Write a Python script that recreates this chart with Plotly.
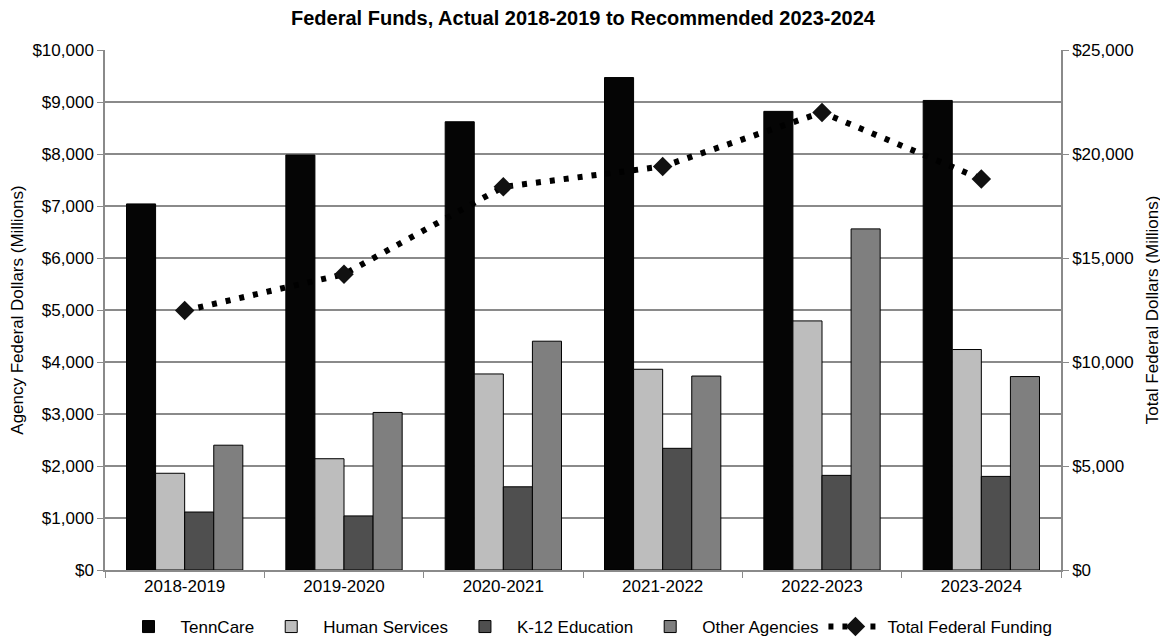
import plotly.graph_objects as go

years = ["2018-2019", "2019-2020", "2020-2021", "2021-2022", "2022-2023", "2023-2024"]
tenncare = [7040, 7980, 8620, 9470, 8820, 9030]
human_services = [1860, 2140, 3770, 3860, 4790, 4240]
k12_education = [1115, 1040, 1600, 2340, 1820, 1800]
other_agencies = [2400, 3030, 4400, 3730, 6560, 3720]
total_federal = [12470, 14220, 18420, 19400, 22000, 18800]

font_family = "Liberation Sans, Arial, sans-serif"

# the page places the figure 8px from the top-left corner of the window
W, H = 1160, 629

fig = go.Figure()
bar_series = [
    ("TennCare", tenncare, "#050505"),
    ("Human Services", human_services, "#bdbdbd"),
    ("K-12 Education", k12_education, "#4f4f4f"),
    ("Other Agencies", other_agencies, "#7f7f7f"),
]
for name, vals, col in bar_series:
    fig.add_trace(go.Bar(
        x=years, y=vals, name=name,
        marker=dict(color=col, line=dict(color="#000000", width=1)),
        yaxis="y",
    ))

fig.add_trace(go.Scatter(
    x=years, y=total_federal, name="Total Federal Funding",
    mode="lines+markers",
    line=dict(color="#000000", width=6, dash="5px,9px"),
    marker=dict(symbol="diamond", size=15, color="#111111"),
    yaxis="y2",
))

grid_col = "#8a8a8a"
tick_font = dict(size=17)
fig.update_layout(
    width=W, height=H,
    margin=dict(l=97, r=107, t=42, b=67),
    paper_bgcolor="white", plot_bgcolor="white",
    font=dict(family=font_family, size=17, color="#000000"),
    title=dict(text="<b>Federal Funds, Actual 2018-2019 to Recommended 2023-2024</b>",
               x=(583 - 8) / W, xanchor="center", y=1 - 10 / H, yanchor="middle",
               font=dict(size=20, family=font_family)),
    barmode="group", bargap=0.27, bargroupgap=0,
    xaxis=dict(
        showline=True, linecolor=grid_col, linewidth=1.5,
        ticks="outside", tickson="boundaries", ticklen=6, tickcolor=grid_col,
        showgrid=False, tickfont=tick_font, automargin=False,
    ),
    yaxis=dict(
        range=[0, 10000], dtick=1000, tickprefix="$", tickformat=",",
        showgrid=True, gridcolor=grid_col, gridwidth=1.5,
        showline=True, linecolor=grid_col, linewidth=1.5,
        ticks="outside", ticklen=6, tickcolor=grid_col,
        zeroline=False, automargin=False,
        title=dict(text="Agency Federal Dollars (Millions)", font=dict(size=17), standoff=6),
        tickfont=tick_font,
    ),
    yaxis2=dict(
        range=[0, 25000], dtick=5000, tickprefix="$", tickformat=",",
        overlaying="y", side="right", showgrid=False,
        showline=True, linecolor=grid_col, linewidth=1.5,
        ticks="outside", ticklen=6, tickcolor=grid_col,
        zeroline=False, automargin=False,
        title=dict(text="Total Federal Dollars (Millions)", font=dict(size=17), standoff=13),
        tickfont=tick_font,
    ),
    legend=dict(orientation="h", x=(587 - 8) / W, xanchor="center", xref="container",
                y=1 - (627 - 8) / H, yanchor="middle", yref="container",
                font=dict(size=17), itemwidth=54, traceorder="normal"),
)

fig.write_html("out.html")
